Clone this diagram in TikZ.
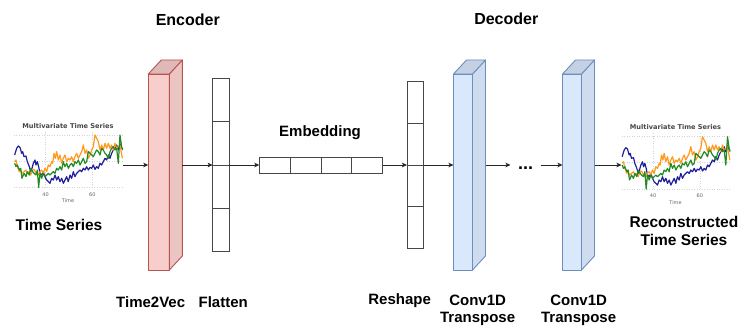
\documentclass[tikz,border=0pt]{standalone}
\usepackage{fontspec}
\setmainfont{Liberation Sans}
\newfontfamily\chartfont{DejaVu Sans}
\usetikzlibrary{calc,arrows.meta}
\definecolor{redfill}{HTML}{F8CECC}
\definecolor{redline}{HTML}{B85450}
\definecolor{bluefill}{HTML}{DAE8FC}
\definecolor{blueline}{HTML}{6C8EBF}
\definecolor{serblue}{HTML}{1F1F99}
\definecolor{serorange}{HTML}{FF9A1F}
\definecolor{sergreen}{HTML}{228B22}
\newcommand{\drawcube}[3]{%
  \filldraw[fill=#2, draw=#3, line width=0.9pt, line join=round] (#1.south west) rectangle ($(#1.north east)+(-13,14)$);
  \filldraw[fill=#2!95!black, draw=#3, line width=0.9pt, line join=round] ($(#1.south east)+(-13,0)$) -- ($(#1.north east)+(-13,14)$) -- (#1.north east) -- ($(#1.south east)+(0,-14)$) -- cycle;
  \filldraw[fill=#2!90!black, draw=#3, line width=0.9pt, line join=round] ($(#1.north west)+(0,14)$) -- ($(#1.north east)+(-13,14)$) -- (#1.north east) -- ($(#1.north west)+(13,0)$) -- cycle;
}
\newcommand{\hdivs}[1]{%
  \foreach \f in {0.25,0.5,0.75}{\draw[colline] ($(#1.north west)!\f!(#1.south west)$) -- ($(#1.north east)!\f!(#1.south east)$);}
}
\newcommand{\vdivs}[1]{%
  \foreach \f in {0.25,0.5,0.75}{\draw[colline] ($(#1.north west)!\f!(#1.north east)$) -- ($(#1.south west)!\f!(#1.south east)$);}
}
\tikzset{
  colline/.style={draw=black!72, line width=0.9pt},
  colbox/.style={colline, fill=white, inner sep=0pt, outer sep=0pt},
  cubebox/.style={inner sep=0pt, outer sep=0pt, minimum height=210, minimum width=32},
  chartarea/.style={inner sep=0pt, outer sep=0pt, minimum width=109.3, minimum height=58},
  arr/.style={draw=black!85, line width=0.8pt, -{Stealth[length=5pt,width=4.5pt,inset=1.2pt]}},
  lbl/.style={font=\fontsize{15}{17.8}\selectfont\bfseries, inner sep=0pt, align=center},
  hdr/.style={font=\fontsize{16}{19}\selectfont\bfseries, inner sep=0pt},
  series/.style={line width=1.2pt, line join=round},
  tschart/.pic={
    \begin{scope}[x=0.3333pt,y=-0.3333pt]
      \draw[gray!35, dotted, line width=0.5pt] (12,15) -- (340,15) (12,93) -- (340,93) (12,172) -- (340,172) (107,5) -- (107,175) (247,5) -- (247,175);
      \draw[series, serblue] plot coordinates {(14,75) (20,55) (25,48) (30,52) (35,70) (38,65) (42,80) (48,78) (52,95) (58,110) (62,125) (66,115) (70,100) (75,90) (78,105) (82,95) (86,110) (90,130) (96,135) (100,125) (105,140) (110,150) (115,155) (120,160) (125,145) (130,150) (135,135) (140,150) (145,140) (150,155) (155,145) (160,160) (165,150) (170,140) (175,155) (180,135) (185,145) (190,125) (195,140) (200,130) (205,125) (210,120) (215,125) (220,115) (225,120) (230,110) (235,120) (240,112) (245,115) (250,105) (255,118) (260,110) (265,115) (270,100) (275,105) (280,95) (285,85) (290,90) (295,75) (300,85) (305,70) (310,60) (315,55) (320,45) (325,60) (330,42) (335,55)};
      \draw[series, serorange] plot coordinates {(14,95) (18,90) (22,110) (28,125) (32,120) (36,130) (42,125) (48,120) (52,130) (58,125) (62,135) (68,120) (72,118) (78,130) (82,125) (86,135) (90,125) (95,120) (100,130) (105,115) (110,125) (115,105) (120,110) (125,95) (128,100) (132,70) (136,85) (140,65) (145,90) (150,75) (155,100) (160,85) (165,75) (170,95) (175,85) (180,90) (185,80) (190,95) (195,80) (200,70) (205,85) (210,75) (215,65) (220,45) (225,70) (230,60) (235,85) (240,75) (245,60) (250,50) (255,15) (260,25) (265,35) (270,60) (275,45) (280,60) (285,40) (290,55) (295,40) (300,55) (305,45) (310,60) (315,40) (320,55) (325,50) (330,45) (337,85)};
      \draw[series, sergreen] plot coordinates {(14,100) (18,110) (22,105) (28,120) (32,115) (36,145) (42,130) (48,140) (52,125) (58,135) (62,115) (68,125) (72,130) (78,135) (82,120) (86,172) (90,130) (95,145) (100,130) (105,140) (110,135) (115,130) (120,135) (125,130) (130,125) (135,130) (140,115) (145,120) (150,110) (155,120) (160,95) (165,110) (170,100) (175,115) (180,105) (185,100) (190,110) (195,95) (200,100) (205,90) (210,105) (215,95) (220,85) (225,100) (230,95) (235,65) (240,70) (245,75) (250,80) (255,70) (260,60) (265,65) (270,75) (275,55) (280,60) (285,70) (290,75) (295,85) (300,65) (305,55) (310,50) (315,60) (320,55) (325,100) (330,15) (335,50) (338,60)};
      \node[font=\chartfont\bfseries\fontsize{6.6}{7}\selectfont, text=black!72, inner sep=0pt] (-title) at (174,-13) {Multivariate Time Series};
      \node[font=\chartfont\fontsize{5}{6}\selectfont, text=black!60, inner sep=0pt] (-t40) at (107,193) {40};
      \node[font=\chartfont\fontsize{5}{6}\selectfont, text=black!60, inner sep=0pt] (-t60) at (247,193) {60};
      \node[font=\chartfont\fontsize{5}{6}\selectfont, text=black!60, inner sep=0pt] (-time) at (174,213) {Time};
    \end{scope}
  }
}
\begin{document}
\begin{tikzpicture}[x=1pt,y=-1pt]
  \useasboundingbox (0,0) rectangle (738,326);
  \fill[white] (0,0) rectangle (738,326);

  % charts
  \pic (c1) at (10,130) {tschart};
  \pic (c2) at (617.5,131.7) {tschart};
  \node[chartarea] (chart1) at (68.65,165) {};
  \node[chartarea] (chart2) at (676.15,166.7) {};

  % blocks
  \node[cubebox, minimum width=34] (t2v) at (165.3,165) {};
  \drawcube{t2v}{redfill}{redline}
  \node[colbox, minimum width=16.7, minimum height=172.7] (flat) at (221,165) {};
  \hdivs{flat}
  \node[colbox, minimum width=123.4, minimum height=16] (emb) at (321,165) {};
  \vdivs{emb}
  \node[colbox, minimum width=16.7, minimum height=167] (resh) at (415.3,165) {};
  \hdivs{resh}
  \node[cubebox] (conv1) at (469.5,165) {};
  \drawcube{conv1}{bluefill}{blueline}
  \node[inner sep=0pt, outer sep=0pt, minimum width=30, text height=8pt, text depth=0pt, font=\fontsize{18}{20}\selectfont\bfseries] (dots) at (525.5,165) {...};
  \node[cubebox] (conv2) at (578.5,165) {};
  \drawcube{conv2}{bluefill}{blueline}

  % connectors
  \draw[arr] (chart1.east) -- (t2v.west);
  \draw[arr] (t2v.east) -- (flat.west);
  \draw[arr] (flat.east) -- (emb.west);
  \draw[arr] (emb.east) -- (resh.west);
  \draw[arr] (resh.east) -- (conv1.west);
  \draw[arr] (conv1.east) -- (dots.west);
  \draw[arr] (dots.east) -- (conv2.west);
  \draw[arr] (conv2.east) -- (conv2.east -| chart2.west);

  % labels
  \node[hdr] (enc) at (187.8,20) {Encoder};
  \node[hdr] (dec) at (506.3,18.3) {Decoder};
  \node[lbl] (embl) at (320,132.7) {Embedding};
  \node[lbl, font=\fontsize{15.5}{18.3}\selectfont\bfseries] (tsl) at (59,225) {Time Series};
  \node[lbl, font=\fontsize{15.5}{18.3}\selectfont\bfseries] (rtsl) at (684,231) {Reconstructed\\Time Series};
  \node[lbl] (t2vl) at (150.7,302) {Time2Vec};
  \node[lbl] (flatl) at (223.2,302) {Flatten};
  \node[lbl] (reshl) at (399.6,300.5) {Reshape};
  \node[lbl, font=\fontsize{15}{17.2}\selectfont\bfseries] (conv1l) at (477.6,310.5) {Conv1D\\Transpose};
  \node[lbl, font=\fontsize{15}{17.2}\selectfont\bfseries] (conv2l) at (578.6,310.5) {Conv1D\\Transpose};
\end{tikzpicture}
\end{document}
